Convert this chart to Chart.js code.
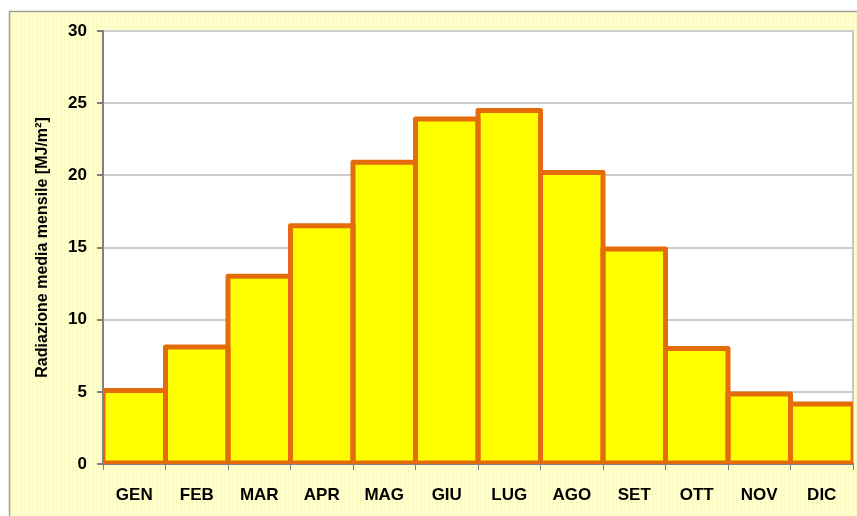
<!DOCTYPE html>
<html><head><meta charset="utf-8">
<script src="https://cdn.jsdelivr.net/npm/chart.js@4"></script>
<style>html,body{margin:0;padding:0;background:#fff;}#wrap{width:857px;height:516px;position:relative;}</style>
</head><body><div id="wrap"><canvas id="c" width="857" height="516"></canvas></div>
<script>
const categories = ['GEN','FEB','MAR','APR','MAG','GIU','LUG','AGO','SET','OTT','NOV','DIC'];
const radiazione = [5.1, 8.1, 13.0, 16.5, 20.9, 23.9, 24.5, 20.2, 14.9, 8.0, 4.85, 4.15];
const yTicks = [0, 5, 10, 15, 20, 25, 30];
const yTitle = 'Radiazione media mensile [MJ/m²]';

const bgPlugin = {
  id: 'bg',
  beforeDraw(chart) {
    const ctx = chart.ctx, a = chart.chartArea;
    ctx.save();
    ctx.fillStyle = '#ffffff';
    ctx.fillRect(0, 0, chart.width, chart.height);
    ctx.fillStyle = '#FFFFCF';
    ctx.fillRect(9, 11, chart.width - 9, chart.height - 11);
    ctx.strokeStyle = 'rgba(240,240,170,0.35)';
    ctx.lineWidth = 1;
    ctx.beginPath();
    for (let x = 12; x < chart.width; x += 4) { ctx.moveTo(x + 0.5, 12); ctx.lineTo(x + 0.5, chart.height); }
    for (let y = 14; y < chart.height; y += 4) { ctx.moveTo(10, y + 0.5); ctx.lineTo(chart.width, y + 0.5); }
    ctx.stroke();
    ctx.strokeStyle = '#A0A090';
    ctx.lineWidth = 1.5;
    ctx.beginPath();
    ctx.moveTo(9.5, chart.height); ctx.lineTo(9.5, 11.5); ctx.lineTo(chart.width, 11.5);
    ctx.stroke();
    ctx.fillStyle = '#ffffff';
    ctx.fillRect(a.left, a.top, a.right - a.left, a.bottom - a.top);
    ctx.strokeStyle = '#C8C8C8';
    ctx.lineWidth = 2;
    ctx.beginPath();
    ctx.moveTo(a.left, a.top); ctx.lineTo(a.right, a.top); ctx.lineTo(a.right, a.bottom);
    ctx.stroke();
    ctx.restore();
  }
};

// Excel-style border: stroke centred on each bar's outline, clipped to the plot area
const barOutline = {
  id: 'barOutline',
  afterDatasetsDraw(chart) {
    const ctx = chart.ctx, a = chart.chartArea;
    const meta = chart.getDatasetMeta(0);
    ctx.save();
    ctx.beginPath();
    ctx.rect(a.left, a.top, a.right - a.left, a.bottom - a.top);
    ctx.clip();
    ctx.strokeStyle = '#E46C0A';
    ctx.lineWidth = 5;
    ctx.lineJoin = 'round';
    meta.data.forEach(bar => {
      const p = bar.getProps(['x', 'y', 'base', 'width'], true);
      ctx.strokeRect(p.x - p.width / 2, p.y, p.width, p.base - p.y);
    });
    ctx.restore();
  }
};

new Chart(document.getElementById('c'), {
  type: 'bar',
  data: {
    labels: categories,
    datasets: [{
      data: radiazione,
      backgroundColor: '#FFFF00',
      borderWidth: 0,
      barPercentage: 1.0,
      categoryPercentage: 1.0
    }]
  },
  options: {
    responsive: false,
    animation: false,
    devicePixelRatio: 1,
    layout: {padding: {left: 29, right: 4, top: 31, bottom: 0}},
    plugins: {legend: {display: false}, tooltip: {enabled: false}},
    scales: {
      x: {
        grid: {display: true, drawOnChartArea: false, drawTicks: true, tickLength: 6, tickColor: '#808080', offset: true},
        border: {color: '#808080', width: 2},
        ticks: {color: '#000', font: {family: 'Liberation Sans, Arial', size: 17, weight: 'bold'}, padding: 15, maxRotation: 0},
        afterFit(s) { s.height = 52; }
      },
      y: {
        min: 0, max: 30,
        afterBuildTicks(s) { s.ticks = yTicks.map(v => ({value: v})); },
        grid: {color: '#CCCCCC', lineWidth: 2, drawTicks: true, tickLength: 6, tickColor: '#808080'},
        border: {color: '#808080', width: 2},
        ticks: {color: '#000', font: {family: 'Liberation Sans, Arial', size: 17, weight: 'bold'}, padding: 10},
        title: {display: true, text: yTitle, color: '#000', font: {family: 'Liberation Sans, Arial', size: 16, weight: 'bold'}, padding: {top: 4, bottom: 0}},
        afterFit(s) { s.width = 74; }
      }
    }
  },
  plugins: [bgPlugin, barOutline]
});
</script></body></html>
